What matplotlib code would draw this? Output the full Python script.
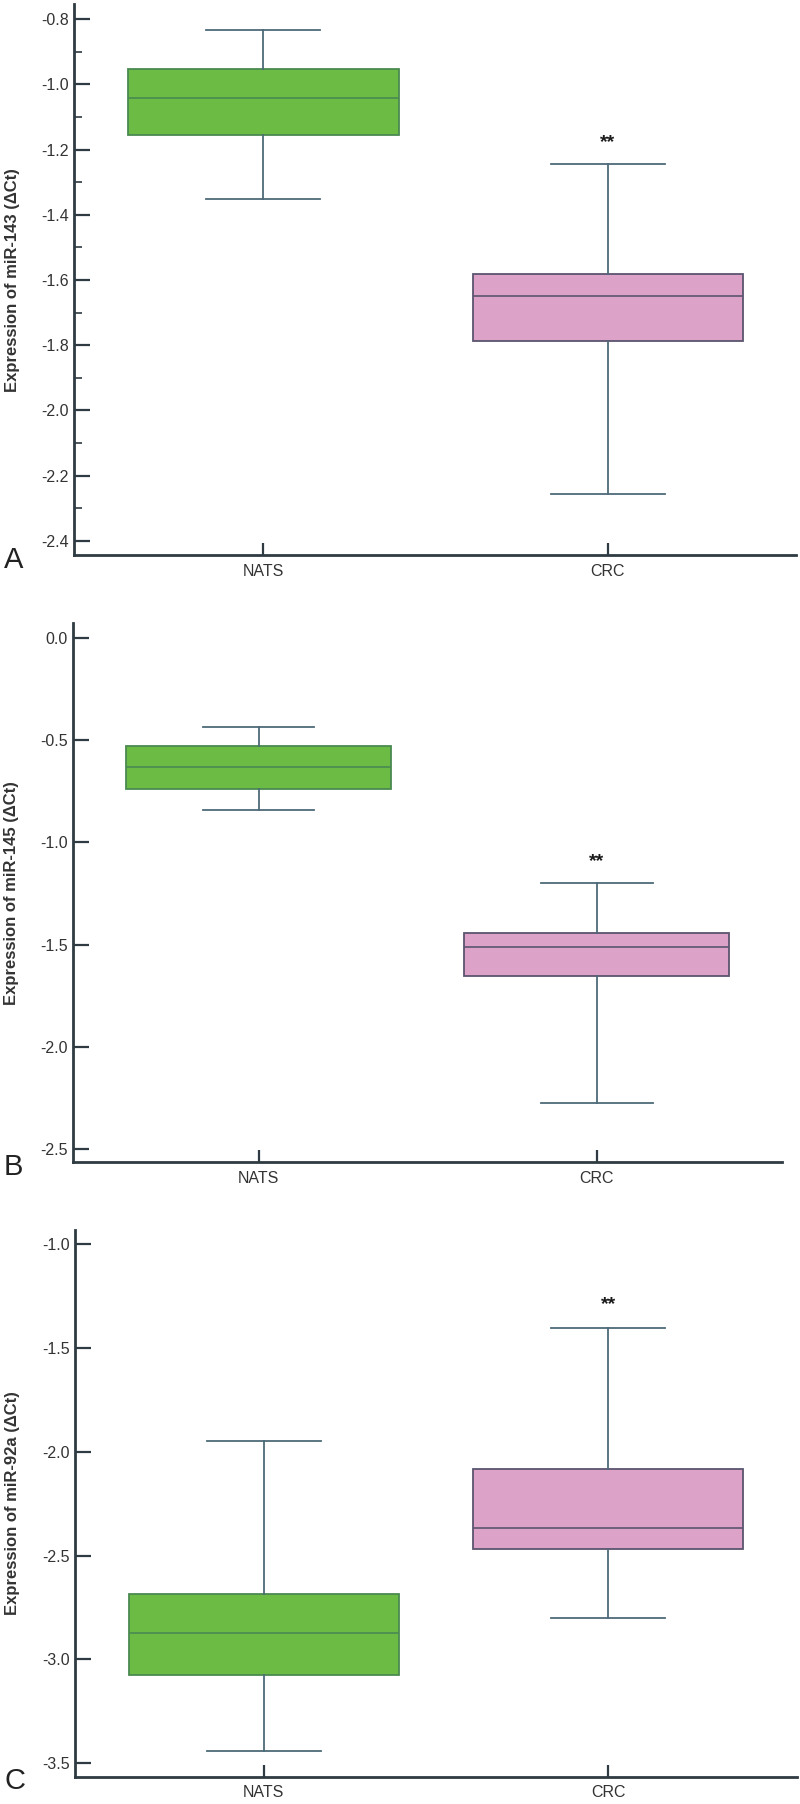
import matplotlib
matplotlib.use("Agg")
import matplotlib.pyplot as plt
from matplotlib.ticker import MultipleLocator, FormatStrFormatter

plt.rcParams['font.family'] = ['Liberation Sans', 'DejaVu Sans']
plt.rcParams['axes.unicode_minus'] = False

groups = ["NATS", "CRC"]

# box stats per panel: whisker low, q1, median, q3, whisker high (NATS, CRC)
mir143_whislo = [-1.351, -2.256]
mir143_q1 = [-1.154, -1.786]
mir143_med = [-1.042, -1.648]
mir143_q3 = [-0.953, -1.583]
mir143_whishi = [-0.833, -1.244]
mir143_star_y = -1.178

mir145_whislo = [-0.841, -2.276]
mir145_q1 = [-0.740, -1.654]
mir145_med = [-0.633, -1.513]
mir145_q3 = [-0.529, -1.444]
mir145_whishi = [-0.436, -1.198]
mir145_star_y = -1.093

mir92a_whislo = [-3.441, -2.800]
mir92a_q1 = [-3.078, -2.469]
mir92a_med = [-2.871, -2.365]
mir92a_q3 = [-2.686, -2.083]
mir92a_whishi = [-1.950, -1.404]
mir92a_star_y = -1.291

panels = [
    dict(letter="A", ylabel="Expression of miR-143 (\u0394Ct)",
         stats=(mir143_whislo, mir143_q1, mir143_med, mir143_q3, mir143_whishi),
         star=mir143_star_y, ylim=(-2.445, -0.753), major=0.2, minor=0.1,
         rect=[0.0931, 0.6921, 0.9025, 0.3058]),
    dict(letter="B", ylabel="Expression of miR-145 (\u0394Ct)",
         stats=(mir145_whislo, mir145_q1, mir145_med, mir145_q3, mir145_whishi),
         star=mir145_star_y, ylim=(-2.565, 0.069), major=0.5, minor=None,
         rect=[0.0916, 0.3556, 0.8855, 0.2988]),
    dict(letter="C", ylabel="Expression of miR-92a (\u0394Ct)",
         stats=(mir92a_whislo, mir92a_q1, mir92a_med, mir92a_q3, mir92a_whishi),
         star=mir92a_star_y, ylim=(-3.567, -0.931), major=0.5, minor=None,
         rect=[0.0937, 0.0150, 0.9021, 0.3032]),
]

fills = ["#6cbb44", "#dca2c8"]
box_edges = ["#4a8a52", "#5b5470"]
whisk_col = "#4d6a78"
axis_col = "#2e3b42"

fig = plt.figure(figsize=(8, 18.04), dpi=100)

for p in panels:
    ax = fig.add_axes(p["rect"])
    lo, q1, med, q3, hi = p["stats"]
    bstats = [dict(whislo=lo[i], q1=q1[i], med=med[i], q3=q3[i], whishi=hi[i],
                   label=groups[i], fliers=[]) for i in range(len(groups))]
    res = ax.bxp(bstats, positions=[1, 2], widths=0.785, patch_artist=True,
                 showfliers=False, capwidths=0.33,
                 whiskerprops=dict(color=whisk_col, linewidth=1.3),
                 capprops=dict(color=whisk_col, linewidth=1.3))
    for i, box in enumerate(res["boxes"]):
        box.set_facecolor(fills[i])
        box.set_edgecolor(box_edges[i])
        box.set_linewidth(1.3)
        res["medians"][i].set_color(box_edges[i])
        res["medians"][i].set_linewidth(1.2)

    ax.text(2, p["star"], "**", ha="center", va="center", fontsize=14,
            fontweight="bold", color="#1a1a1a")

    ax.set_xlim(0.452, 2.547)
    ax.set_ylim(*p["ylim"])
    ax.yaxis.set_major_locator(MultipleLocator(p["major"]))
    ax.yaxis.set_major_formatter(FormatStrFormatter("%.1f"))
    if p["minor"]:
        ax.yaxis.set_minor_locator(MultipleLocator(p["minor"]))
    ax.set_xticks([1, 2])
    ax.set_xticklabels(groups)

    for s in ["top", "right"]:
        ax.spines[s].set_visible(False)
    for s in ["left", "bottom"]:
        ax.spines[s].set_color(axis_col)
        ax.spines[s].set_linewidth(2.0)

    ax.tick_params(axis="y", which="major", direction="in", length=11.5,
                   width=1.6, color=axis_col, labelsize=11.5, pad=4,
                   labelcolor="#333333")
    ax.tick_params(axis="y", which="minor", direction="in", length=6,
                   width=1.2, color=axis_col)
    ax.tick_params(axis="x", which="major", direction="in", length=9,
                   width=1.6, color=axis_col, labelsize=11.5, pad=6,
                   labelcolor="#333333")

    ax.set_ylabel(p["ylabel"], fontsize=12, fontweight="bold",
                  color="#333333")
    ax.yaxis.set_label_coords(-0.076, 0.5)

    ax.text(-0.098, -0.008, p["letter"], transform=ax.transAxes,
            ha="left", va="center", fontsize=21, color="#222222")

fig.savefig("out.png", dpi=100)
